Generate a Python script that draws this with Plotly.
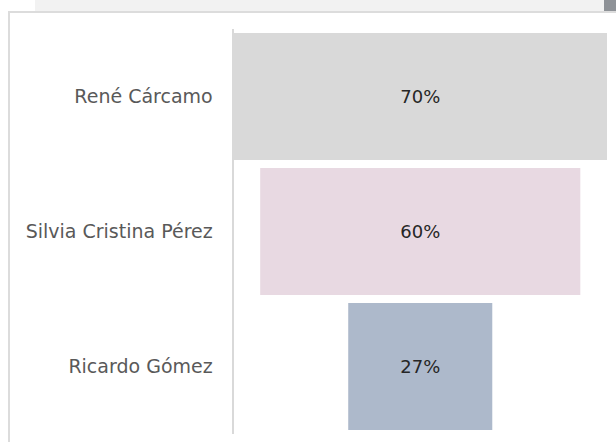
import plotly.graph_objects as go

names = ["René Cárcamo", "Silvia Cristina Pérez", "Ricardo Gómez"]
values = [70, 60, 27]
colors = ["#d9d9d9", "#e8d9e2", "#adb9cb"]

W, H = 616, 442

def px(x):
    return x / W

def py(y):
    return 1 - y / H

fig = go.Figure(go.Funnel(
    y=names,
    x=values,
    texttemplate="%{x}%",
    textposition="inside",
    textfont=dict(family="DejaVu Sans", size=18, color="#262626"),
    marker=dict(color=colors, line=dict(width=0)),
    connector=dict(visible=False),
    hoverinfo="skip",
))

fig.update_layout(
    width=W, height=H,
    margin=dict(l=0, r=0, t=0, b=0),
    paper_bgcolor="white",
    plot_bgcolor="white",
    showlegend=False,
    funnelgap=0.06,
    xaxis=dict(domain=[px(233.5), px(607)], range=[-35, 35], visible=False, fixedrange=True),
    yaxis=dict(domain=[py(434), py(29)], showline=True, linecolor="#d9d9d9", linewidth=2,
               ticks="", ticklabelstandoff=15, fixedrange=True,
               tickfont=dict(family="DejaVu Sans", size=19, color="#595959"), showgrid=False),
    shapes=[
        dict(type="rect", xref="paper", yref="paper", x0=px(35), x1=px(604), y0=py(11), y1=py(0),
             fillcolor="#f2f2f2", line=dict(width=0), layer="below"),
        dict(type="rect", xref="paper", yref="paper", x0=px(604), x1=px(616), y0=py(11), y1=py(0),
             fillcolor="#8e9297", line=dict(width=0), layer="below"),
        dict(type="rect", xref="paper", yref="paper", x0=px(8), x1=px(616), y0=py(13), y1=py(11),
             fillcolor="#dcdcdc", line=dict(width=0), layer="below"),
        dict(type="rect", xref="paper", yref="paper", x0=px(8), x1=px(10), y0=py(442), y1=py(11),
             fillcolor="#dcdcdc", line=dict(width=0), layer="below"),
    ],
)

fig.write_html("out.html", config={"displayModeBar": False},
               post_script="document.body.style.margin='0px';document.body.style.overflow='hidden';")
